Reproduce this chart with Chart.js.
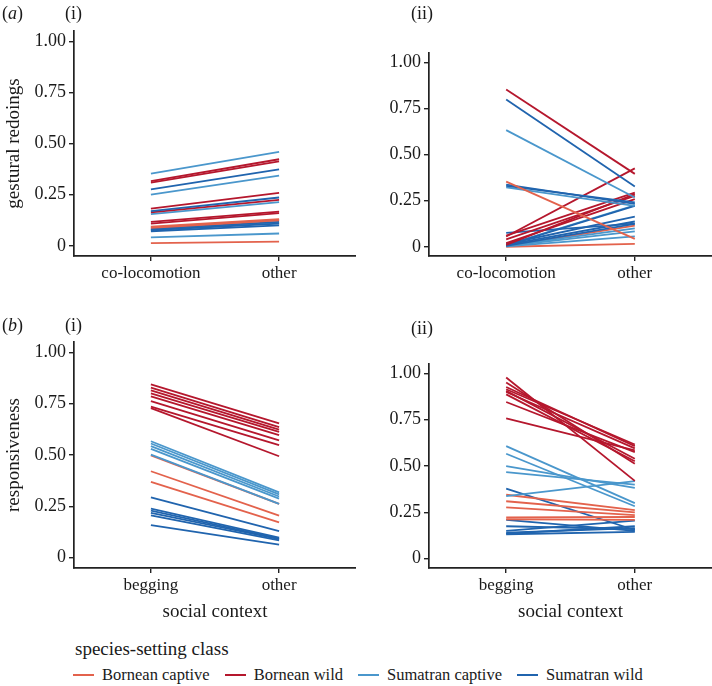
<!DOCTYPE html>
<html>
<head>
<meta charset="utf-8">
<script src="https://cdn.jsdelivr.net/npm/chart.js@4.4.1/dist/chart.umd.min.js"></script>
<style>
  body { margin: 0; background: #fff; }
  #wrap { position: relative; width: 712px; height: 686px; overflow: hidden; font-family: 'Liberation Serif', serif; color: #1a1a1a; }
  canvas { position: absolute; }
  .lab { position: absolute; font-size: 18px; line-height: 18px; white-space: nowrap; }
  #legend { position: absolute; left: 73px; top: 638px; }
  #legend .ttl { font-size: 19px; line-height: 22px; margin-left: 2px; }
  #legend .items { display: flex; align-items: center; margin-top: 5px; font-size: 16.5px; line-height: 20px; }
  #legend .sw { display: inline-block; width: 21px; height: 2px; margin-right: 8px; }
  #legend .it { display: flex; align-items: center; margin-right: 15px; }
</style>
</head>
<body>
<div id="wrap">
  <canvas id="ai" width="356" height="300" style="left:0;top:0"></canvas>
  <canvas id="aii" width="356" height="300" style="left:356px;top:0"></canvas>
  <canvas id="bi" width="356" height="330" style="left:0;top:300px"></canvas>
  <canvas id="bii" width="356" height="330" style="left:356px;top:300px"></canvas>
  <div class="lab" style="left:2px;top:4px">(<i>a</i>)</div>
  <div class="lab" style="left:65px;top:4px">(i)</div>
  <div class="lab" style="left:411px;top:4px">(ii)</div>
  <div class="lab" style="left:2px;top:316px">(<i>b</i>)</div>
  <div class="lab" style="left:65px;top:316px">(i)</div>
  <div class="lab" style="left:411px;top:319px">(ii)</div>
  <div id="legend"><div class="ttl">species-setting class</div><div class="items"></div></div>
</div>
<script>
// categories and classes
const contextsA = ['co-locomotion', 'other'];
const contextsB = ['begging', 'other'];
const classes = ['Bornean captive', 'Bornean wild', 'Sumatran captive', 'Sumatran wild'];
const classColors = ['#e3624c', '#b5172d', '#4a97cc', '#2064ae'];
const yTicks = [0, 0.25, 0.5, 0.75, 1];
const yTickLabels = ['0', '0.25', '0.50', '0.75', '1.00'];

// (a)(i) gestural redoings  (class index, co-locomotion, other)
const aiClass = [2, 1, 1, 3, 2, 1, 3, 1, 2, 1, 1, 0, 0, 3, 3, 3, 3, 2, 2, 0];
const aiFirst = [0.353, 0.316, 0.309, 0.276, 0.250, 0.182, 0.169, 0.163, 0.155, 0.117, 0.108, 0.094, 0.088, 0.090, 0.083, 0.077, 0.071, 0.080, 0.041, 0.013];
const aiOther = [0.459, 0.423, 0.413, 0.374, 0.343, 0.259, 0.236, 0.224, 0.213, 0.167, 0.160, 0.130, 0.124, 0.125, 0.117, 0.108, 0.100, 0.112, 0.060, 0.020];

// (a)(ii)
const aiiClass = [1, 3, 2, 0, 3, 3, 2, 1, 1, 1, 1, 1, 3, 3, 3, 3, 3, 2, 2, 2, 0, 0, 2];
const aiiFirst = [0.852, 0.798, 0.632, 0.353, 0.337, 0.330, 0.322, 0.056, 0.060, 0.040, 0.020, 0.010, 0.075, 0.015, 0.010, 0.005, 0.008, 0.005, 0.003, 0.002, 0.004, 0.000, 0.010];
const aiiOther = [0.395, 0.326, 0.267, 0.043, 0.232, 0.240, 0.222, 0.425, 0.293, 0.276, 0.258, 0.285, 0.125, 0.164, 0.137, 0.124, 0.222, 0.100, 0.083, 0.056, 0.114, 0.016, 0.225];

// (b)(i) responsiveness (begging, other)
const biClass = [1, 1, 1, 1, 1, 1, 1, 1, 2, 2, 2, 2, 2, 0, 0, 0, 3, 3, 3, 3, 3, 3];
const biFirst = [0.844, 0.828, 0.815, 0.800, 0.785, 0.762, 0.735, 0.728, 0.567, 0.556, 0.543, 0.530, 0.502, 0.498, 0.421, 0.369, 0.294, 0.239, 0.229, 0.218, 0.206, 0.159];
const biOther = [0.654, 0.636, 0.624, 0.613, 0.597, 0.571, 0.548, 0.494, 0.318, 0.308, 0.298, 0.288, 0.262, 0.262, 0.205, 0.172, 0.130, 0.098, 0.093, 0.090, 0.085, 0.064];

// (b)(ii)
const biiClass = [1, 1, 1, 1, 1, 1, 1, 1, 1, 2, 2, 2, 2, 2, 0, 0, 0, 0, 0, 3, 3, 3, 3, 3, 3, 3];
const biiFirst = [0.977, 0.950, 0.926, 0.914, 0.899, 0.886, 0.845, 0.757, 0.905, 0.607, 0.566, 0.499, 0.467, 0.338, 0.345, 0.310, 0.277, 0.223, 0.213, 0.378, 0.210, 0.175, 0.150, 0.140, 0.132, 0.135];
const biiOther = [0.420, 0.512, 0.607, 0.616, 0.595, 0.526, 0.575, 0.584, 0.539, 0.300, 0.283, 0.382, 0.400, 0.418, 0.262, 0.250, 0.235, 0.225, 0.210, 0.155, 0.150, 0.160, 0.205, 0.165, 0.145, 0.175];

const serif = "'Liberation Serif', serif";
const ink = '#1a1a1a';
Chart.defaults.font.family = serif;

function panel(id, cats, cls, first, other, o) {
  const datasets = cls.map((c, i) => ({
    data: [{ x: 0, y: first[i] }, { x: 1, y: other[i] }],
    borderColor: classColors[c],
    borderWidth: 1.8,
    pointRadius: 0,
    fill: false,
    tension: 0
  }));
  return new Chart(document.getElementById(id), {
    type: 'line',
    data: { datasets },
    options: {
      responsive: false,
      animation: false,
      events: [],
      layout: { padding: { top: o.top, bottom: o.bottom, left: 0, right: 0 } },
      plugins: { legend: { display: false }, tooltip: { enabled: false } },
      scales: {
        x: {
          type: 'linear', min: -0.6, max: 1.6,
          afterBuildTicks: s => { s.ticks = [{ value: 0 }, { value: 1 }]; },
          afterFit: s => { s.height = o.xh; },
          ticks: { callback: v => cats[v], font: { family: serif, size: 17 }, color: ink, padding: 2, maxRotation: 0, autoSkip: false },
          grid: { drawOnChartArea: false, tickLength: 5, color: '#222', lineWidth: 1.4 },
          border: { color: '#222', width: 1.7 },
          title: { display: !!o.xTitle, text: o.xTitle || '', font: { family: serif, size: 19 }, color: ink, padding: { top: 0, bottom: 0 } }
        },
        y: {
          min: -0.05, max: 1.05,
          afterBuildTicks: s => { s.ticks = yTicks.map(v => ({ value: v })); },
          afterFit: s => { s.width = o.yw; },
          ticks: { callback: v => yTickLabels[yTicks.indexOf(v)], font: { family: serif, size: 18 }, color: ink, padding: 3 },
          grid: { drawOnChartArea: false, tickLength: 5, color: '#222', lineWidth: 1.4 },
          border: { color: '#222', width: 1.7 },
          title: { display: !!o.yTitle, text: o.yTitle || '', font: { family: serif, size: 19 }, color: ink, padding: { top: 3, bottom: 0 } }
        }
      }
    }
  });
}

panel('ai', contextsA, aiClass, aiFirst, aiOther, { top: 31, bottom: 4, xh: 40, yw: 74, yTitle: 'gestural redoings' });
panel('aii', contextsA, aiiClass, aiiFirst, aiiOther, { top: 53, bottom: 4, xh: 40, yw: 73 });
panel('bi', contextsB, biClass, biFirst, biOther, { top: 42, bottom: 7, xh: 55, yw: 74, yTitle: 'responsiveness', xTitle: 'social context' });
panel('bii', contextsB, biiClass, biiFirst, biiOther, { top: 64, bottom: 7, xh: 55, yw: 73, xTitle: 'social context' });

// legend
const items = document.querySelector('#legend .items');
classes.forEach((name, i) => {
  const it = document.createElement('div');
  it.className = 'it';
  it.innerHTML = '<span class="sw" style="background:' + classColors[i] + '"></span>' + name;
  items.appendChild(it);
});
</script>
</body>
</html>
